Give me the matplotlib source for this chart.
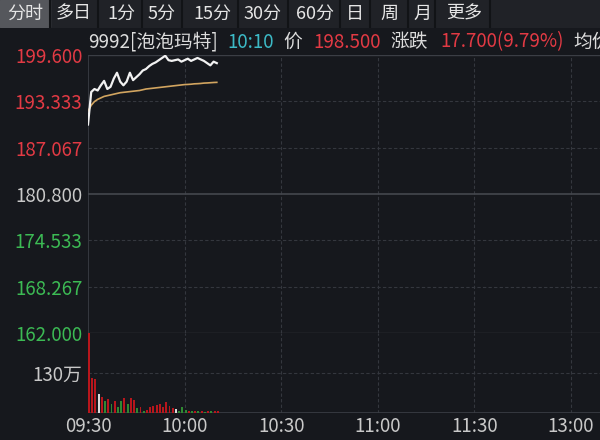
import matplotlib
matplotlib.use("Agg")
import matplotlib.pyplot as plt

plt.rcParams['font.family'] = ['Noto Sans CJK SC', 'DejaVu Sans']

# toolbar tabs
tabs = ['分时', '多日', '1分', '5分', '15分', '30分', '60分', '日', '周', '月', '更多']
tab_x = [25, 74, 121, 162, 212, 263, 315, 355, 389, 422, 464]
tab_sep = [50, 98, 142, 182, 238, 288, 340, 370, 408, 435, 490]

# price / average per minute from 09:30
price = [190.2, 194.6, 195.0, 194.8, 195.5, 196.1, 195.0, 195.3, 196.4, 197.2,
         196.0, 195.5, 196.0, 197.2, 196.2, 196.6, 197.0, 197.5, 197.7, 198.1,
         198.4, 198.6, 198.9, 199.2, 199.5, 198.9, 198.8, 198.9, 199.0, 198.7,
         198.9, 199.1, 198.8, 199.0, 199.2, 199.0, 198.8, 198.5, 198.2, 198.7,
         198.5]
avg = [192.0, 192.8, 193.3, 193.6, 193.8, 194.0, 194.1, 194.2, 194.3, 194.4,
       194.5, 194.55, 194.6, 194.65, 194.7, 194.75, 194.8, 194.9, 195.0, 195.05,
       195.1, 195.15, 195.2, 195.25, 195.3, 195.35, 195.4, 195.45, 195.5, 195.55,
       195.6, 195.62, 195.65, 195.7, 195.72, 195.75, 195.8, 195.82, 195.85, 195.88,
       195.9]
# volume in 万, colour code: r up, g down, w flat
volume = [270, 115, 110, 62, 52, 38, 45, 30, 40, 20,
          38, 48, 30, 50, 42, 15, 20, 8, 10, 18,
          22, 25, 28, 20, 35, 22, 15, 12, 8, 18,
          10, 6, 5, 7, 5, 6, 4, 7, 5, 8,
          5]
vol_dir = ['r', 'r', 'r', 'w', 'r', 'g', 'r', 'g', 'r', 'g',
           'g', 'r', 'g', 'r', 'r', 'g', 'r', 'g', 'r', 'r',
           'r', 'r', 'r', 'r', 'r', 'r', 'r', 'w', 'g', 'g',
           'g', 'r', 'g', 'r', 'g', 'r', 'g', 'r', 'g', 'r',
           'r']

y_ticks = [199.600, 193.333, 187.067, 180.800, 174.533, 168.267, 162.000]
time_labels = ['09:30', '10:00', '10:30', '11:00', '11:30', '13:00']
time_pos = [0, 30, 60, 90, 120, 150]

BG = '#16181d'
GRID = '#34373e'
RED = '#e23a44'
GREEN = '#3cba54'
TXT = '#c9c9c9'
vcol = {'r': '#b8161c', 'g': '#2f8a32', 'w': '#dcdcdc'}

W, H = 600, 440
fig = plt.figure(figsize=(6, 4.4), dpi=100, facecolor=BG)

def fx(px):
    return px / W

def fy(py):
    return 1 - py / H

# toolbar
tb = fig.add_axes([0, fy(28), 1, 28 / H])
tb.set_xlim(0, W)
tb.set_ylim(28, 0)
tb.axis('off')
tb.add_patch(plt.Rectangle((0, 0), W, 28, color='#202227'))
tb.add_patch(plt.Rectangle((0, 0), 50, 27, color='#55575c'))
for s in tab_sep:
    tb.plot([s, s], [0, 27], color='#111316', lw=1.5)
for t, x in zip(tabs, tab_x):
    tb.text(x, 13.5, t, color='#e6e6e6', fontsize=13, ha='center', va='center')

xmax = (W - 88) / 3.22
left = fx(88)
width = 1 - left

ax = fig.add_axes([left, fy(333), width, (333 - 55) / H], facecolor=BG)
vax = fig.add_axes([left, fy(413), width, (413 - 333) / H], facecolor=BG)

for a in (ax, vax):
    a.set_xlim(0, xmax)
    for s in a.spines.values():
        s.set_visible(False)
    a.tick_params(length=0)
    for p in time_pos[1:]:
        a.axvline(p, color=GRID, lw=0.8, ls=(0, (3, 2)), zorder=0)
    a.axvline(0, color='#3b3e45', lw=1.2, zorder=0)

ax.set_ylim(162.0, 199.6)
for v in y_ticks:
    if v == 180.8:
        ax.axhline(v, color='#44474e', lw=1.2, zorder=0)
    elif v in (199.6, 162.0):
        ax.axhline(v, color='#3b3e45', lw=1.0, zorder=0)
    else:
        ax.axhline(v, color=GRID, lw=0.8, ls=(0, (3, 2)), zorder=0)
ax.set_yticks(y_ticks)
ax.set_yticklabels([f'{v:.3f}' for v in y_ticks], fontsize=13.5)
for lab, v in zip(ax.get_yticklabels(), y_ticks):
    lab.set_color(RED if v > 180.8 else (GREEN if v < 180.8 else TXT))
ax.tick_params(axis='y', pad=4)
ax.set_xticks([])

mins = list(range(len(price)))
ax.plot(mins, avg, color='#d2a560', lw=1.2)
ax.plot(mins, price, color='#f2f2f2', lw=1.6)

vax.set_ylim(0, 260)
vax.bar(mins, volume, width=0.6, color=[vcol[d] for d in vol_dir], align='edge', zorder=3)
vax.axhline(130, color=GRID, lw=0.8, ls=(0, (3, 2)), zorder=0)
vax.axhline(0, color='#3b3e45', lw=1.2, zorder=0)
vax.set_yticks([130])
vax.set_yticklabels(['130万'], fontsize=13.5, color=TXT)
vax.tick_params(axis='y', pad=4)
vax.set_xticks(time_pos)
vax.set_xticklabels(time_labels, fontsize=13.5, color=TXT)
vax.tick_params(axis='x', pad=2)

# header line
hy = fy(42)
hf = 13.5
fig.text(fx(88), hy, '9992[泡泡玛特]', color='#dcdcdc', fontsize=hf, va='center')
fig.text(fx(227), hy, '10:10', color='#3cbac6', fontsize=hf, va='center')
fig.text(fx(283), hy, '价', color='#dcdcdc', fontsize=hf, va='center')
fig.text(fx(313), hy, '198.500', color=RED, fontsize=hf, va='center')
fig.text(fx(390), hy, '涨跌', color='#dcdcdc', fontsize=hf, va='center')
fig.text(fx(440), hy, '17.700(9.79%)', color=RED, fontsize=hf, va='center')
fig.text(fx(573), hy, '均价', color='#dcdcdc', fontsize=hf, va='center')

fig.savefig('out.png', dpi=100, facecolor=BG)
